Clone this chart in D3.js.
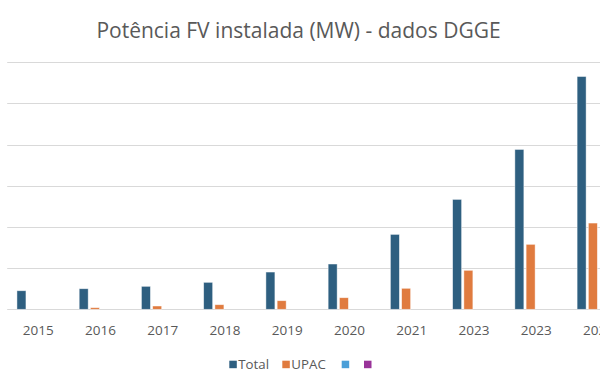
<!DOCTYPE html>
<html>
<head>
<meta charset="utf-8">
<script src="https://cdn.jsdelivr.net/npm/d3@7"></script>
<style>
  html, body { margin: 0; padding: 0; background: #fff; }
  svg { display: block; overflow: hidden; }
  text { font-family: "Open Sans", "Noto Sans", sans-serif; fill: #595959; }
</style>
</head>
<body>
<svg id="chart" width="600" height="390"></svg>
<script>
const title = "Potência FV instalada (MW) - dados DGGE";
const categories = ["2015","2016","2017","2018","2019","2020","2021","2023","2023","2024"];
const seriesNames = ["Total","UPAC","",""];
const seriesColors = ["#2E5F80","#E07B3F","#4A9FD8","#993399"];
const totalValues = [451, 500, 558, 655, 905, 1100, 1820, 2670, 3883, 5655];
const upacValues  = [0, 40, 80, 112, 209, 282, 510, 947, 1578, 2095];
const series3Values = [];
const series4Values = [];
const yTicks = [0, 1000, 2000, 3000, 4000, 5000, 6000];

const seriesValues = [totalValues, upacValues, series3Values, series4Values];

const svg = d3.select("#chart");

const x0 = d3.scaleBand().domain(d3.range(categories.length))
  .range([7.2, 629.6]).paddingInner(0.277).paddingOuter(0.1385);
const x1 = d3.scaleBand().domain(d3.range(seriesNames.length))
  .range([0, x0.bandwidth()]).paddingInner(0.2).paddingOuter(0.1);
const y = d3.scaleLinear().domain([0, 6000]).range([309.3, 62.3]);

// gridlines
svg.append("g").selectAll("line").data(yTicks).join("line")
  .attr("x1", 7.2).attr("x2", 629.6)
  .attr("y1", d => Math.round(y(d)) + 0.5).attr("y2", d => Math.round(y(d)) + 0.5)
  .attr("stroke", "#D9D9D9").attr("stroke-width", 1.2);

// bars
const groups = svg.append("g").selectAll("g").data(categories).join("g")
  .attr("transform", (d, i) => `translate(${x0(i)},0)`);
groups.selectAll("rect")
  .data((d, i) => seriesValues.map((vals, s) => ({ s, v: vals[i] }))
    .filter(o => o.v != null && o.v > 0))
  .join("rect")
  .attr("x", o => x1(o.s))
  .attr("width", x1.bandwidth())
  .attr("y", o => y(o.v))
  .attr("height", o => y(0) - y(o.v))
  .attr("fill", o => seriesColors[o.s])
  .attr("stroke", "#ffffff").attr("stroke-opacity", 0.6).attr("stroke-width", 0.75);

// x axis labels
svg.append("g").selectAll("text").data(categories).join("text")
  .attr("x", (d, i) => x0(i) + x0.bandwidth() / 2)
  .attr("y", 335)
  .attr("text-anchor", "middle")
  .attr("font-size", 13.5)
  .text(d => d);

// title
svg.append("text")
  .attr("x", 298.5).attr("y", 37.5)
  .attr("text-anchor", "middle")
  .attr("font-size", 21)
  .text(title);

// legend
const legendX = [229.3, 282.3, 341.7, 364];
const leg = svg.append("g").selectAll("g").data(seriesNames).join("g")
  .attr("transform", (d, i) => `translate(${legendX[i]},360.7)`);
leg.append("rect").attr("width", 7.5).attr("height", 7.5)
  .attr("fill", (d, i) => seriesColors[i]);
leg.append("text").attr("x", 9).attr("y", 8.5)
  .attr("font-size", 13.3).text(d => d);
</script>
</body>
</html>
